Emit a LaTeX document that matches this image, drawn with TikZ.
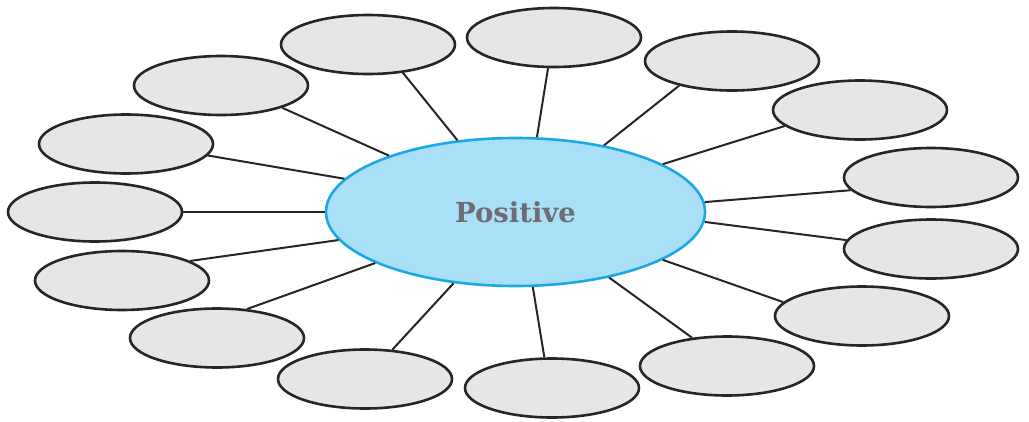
\documentclass[tikz,border=0pt]{standalone}
\usepackage{fontspec}
\newfontfamily\slabfont{DejaVu Serif}
\usetikzlibrary{shapes.geometric}
\definecolor{hubblue}{HTML}{A9DFF7}
\definecolor{hubedge}{HTML}{1BA8E4}
\definecolor{leafgray}{HTML}{E6E6E6}
\definecolor{leafedge}{HTML}{262626}
\definecolor{textgray}{HTML}{6D6E71}
\begin{document}
\begin{tikzpicture}[x=1pt,y=-1pt,
    leaf/.style={shape=ellipse,draw=leafedge,line width=2.6pt,fill=leafgray,
      minimum width=174pt,minimum height=59pt,inner sep=0pt},
    hub/.style={shape=ellipse,draw=hubedge,line width=2.6pt,fill=hubblue,
      minimum width=379pt,minimum height=148pt,inner sep=0pt,
      font=\slabfont\bfseries\fontsize{27.5}{32}\selectfont,text=textgray}]
      \fill[white] (0,0) rectangle (1029,421);
      \useasboundingbox (0,0) rectangle (1029,421);
      \draw
        (515.5,212) node[hub] (hub){Positive}
        (368,44.5) node[leaf] (0){}
        (554,37.5) node[leaf] (1){}
        (732,61) node[leaf] (2){}
        (860,110) node[leaf] (3){}
        (931,177.5) node[leaf] (4){}
        (931,249) node[leaf] (5){}
        (862,316) node[leaf] (6){}
        (727,366) node[leaf] (7){}
        (552,388) node[leaf] (8){}
        (365,379) node[leaf] (9){}
        (217,338) node[leaf] (10){}
        (122,280.5) node[leaf] (11){}
        (95,212) node[leaf] (12){}
        (126,144) node[leaf] (13){}
        (221,85.5) node[leaf] (14){};
      \begin{scope}[-,draw=leafedge,line width=2pt]
        \draw (hub.129.3) to (0.-39.5);
        \draw (hub.74.7) to (1.-101);
        \draw (hub.37.5) to (2.-155.5);
        \draw (hub.18) to (3.-168.5);
        \draw (hub.3.9) to (4.-171.6);
        \draw (hub.-3.6) to (5.174);
        \draw (hub.-18.5) to (6.170.2);
        \draw (hub.-35.2) to (7.141.1);
        \draw (hub.-77.6) to (8.104.5);
        \draw (hub.-131) to (9.47.9);
        \draw (hub.-160) to (10.44);
        \draw (hub.-171.4) to (11.16.3);
        \draw (hub.180) to (12.0);
        \draw (hub.169.7) to (13.-8.3);
        \draw (hub.156.5) to (14.-20.6);
      \end{scope}
    \end{tikzpicture}
\end{document}
